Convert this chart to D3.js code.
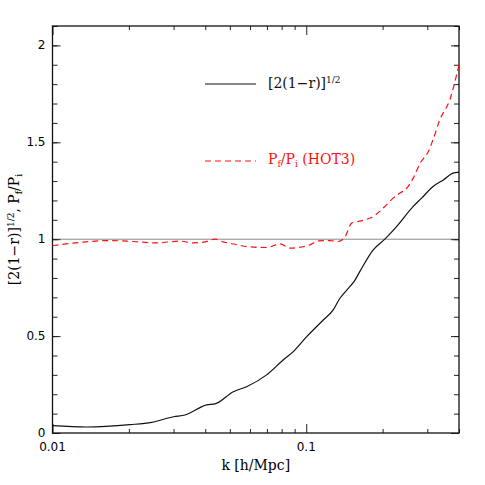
<!doctype html>
<html>
<head>
<style>
  body { margin: 0; background: white; }
</style>
<script src="https://d3js.org/d3.v7.min.js"></script>
</head>
<body>
<svg width="485" height="485"></svg>
<script>
// data
var kBlack = [0.01, 0.0136, 0.0202, 0.0246, 0.030, 0.0333, 0.0405, 0.0437, 0.0516, 0.0582, 0.0698, 0.0811, 0.0889, 0.1004, 0.1167, 0.1277, 0.135, 0.145, 0.155, 0.163, 0.1836, 0.204, 0.227, 0.264, 0.285, 0.316, 0.347, 0.379, 0.4];
var vBlack = [0.038, 0.031, 0.043, 0.055, 0.084, 0.093, 0.145, 0.150, 0.213, 0.239, 0.300, 0.377, 0.420, 0.497, 0.583, 0.635, 0.690, 0.740, 0.785, 0.835, 0.945, 1.000, 1.065, 1.169, 1.212, 1.272, 1.306, 1.341, 1.346];

var kRed = [0.01, 0.0132, 0.01685, 0.0208, 0.0257, 0.0318, 0.0359, 0.0399, 0.0437, 0.0471, 0.0524, 0.0582, 0.0698, 0.0788, 0.0863, 0.1034, 0.1115, 0.124, 0.1337, 0.142, 0.151, 0.160, 0.168, 0.178, 0.189, 0.207, 0.220, 0.234, 0.249, 0.264, 0.281, 0.303, 0.316, 0.336, 0.368, 0.4];
var vRed = [0.966, 0.985, 0.993, 0.988, 0.981, 0.990, 0.981, 0.986, 1.000, 0.986, 0.974, 0.962, 0.957, 0.976, 0.954, 0.971, 0.991, 0.993, 0.988, 1.010, 1.083, 1.091, 1.098, 1.108, 1.129, 1.177, 1.212, 1.238, 1.263, 1.315, 1.392, 1.453, 1.513, 1.616, 1.719, 1.900];

var xMajor = [0.01, 0.1];
var xMinor = [0.02, 0.03, 0.04, 0.05, 0.06, 0.07, 0.08, 0.09, 0.2, 0.3, 0.4];
var yMajor = [0, 0.5, 1, 1.5, 2];
var yMinor = d3.range(0, 2.11, 0.1);

var svg = d3.select("svg");
var pLeft = 52.5, pRight = 459, pTop = 26, pBottom = 433;

var x = d3.scaleLog().domain([0.01, 0.4]).range([pLeft, pRight]);
var y = d3.scaleLinear().domain([0, 2.1]).range([pBottom, pTop]);

// reference line at 1
svg.append("line")
   .attr("x1", pLeft).attr("x2", pRight)
   .attr("y1", y(1)).attr("y2", y(1))
   .attr("stroke", "#888").attr("stroke-width", 1);

// axes: ticks drawn inward on all four sides
function noLabel() { return ""; }
svg.append("g").attr("transform", "translate(0," + pBottom + ")")
   .call(d3.axisTop(x).tickValues(xMinor).tickSize(4).tickFormat(noLabel));
svg.append("g").attr("transform", "translate(0," + pBottom + ")")
   .call(d3.axisTop(x).tickValues(xMajor).tickSize(9).tickFormat(noLabel));
svg.append("g").attr("transform", "translate(0," + pTop + ")")
   .call(d3.axisBottom(x).tickValues(xMinor).tickSize(4).tickFormat(noLabel));
svg.append("g").attr("transform", "translate(0," + pTop + ")")
   .call(d3.axisBottom(x).tickValues(xMajor).tickSize(9).tickFormat(noLabel));

svg.append("g").attr("transform", "translate(" + pLeft + ",0)")
   .call(d3.axisRight(y).tickValues(yMinor).tickSize(5).tickFormat(noLabel));
svg.append("g").attr("transform", "translate(" + pLeft + ",0)")
   .call(d3.axisRight(y).tickValues(yMajor).tickSize(8).tickFormat(noLabel));
svg.append("g").attr("transform", "translate(" + pRight + ",0)")
   .call(d3.axisLeft(y).tickValues(yMinor).tickSize(5).tickFormat(noLabel));
svg.append("g").attr("transform", "translate(" + pRight + ",0)")
   .call(d3.axisLeft(y).tickValues(yMajor).tickSize(8).tickFormat(noLabel));

svg.selectAll(".domain").remove();
svg.selectAll(".tick line").attr("stroke", "#222").attr("stroke-width", 1);

// frame
svg.append("rect")
   .attr("x", pLeft).attr("y", pTop)
   .attr("width", pRight - pLeft).attr("height", pBottom - pTop)
   .attr("fill", "none").attr("stroke", "#111").attr("stroke-width", 1.3);

// tick labels
svg.selectAll(".xlab").data(xMajor).enter().append("text")
   .attr("x", function(d) { return x(d); })
   .attr("y", pBottom + 18)
   .attr("text-anchor", "middle")
   .attr("font-family", "DejaVu Sans, sans-serif")
   .attr("font-size", 12)
   .text(function(d) { return d; });

svg.selectAll(".ylab").data(yMajor).enter().append("text")
   .attr("x", pLeft - 7)
   .attr("y", function(d) { return y(d) + 4; })
   .attr("text-anchor", "end")
   .attr("font-family", "DejaVu Sans, sans-serif")
   .attr("font-size", 12)
   .text(function(d) { return d; });

// curves
var line = d3.line()
   .curve(d3.curveMonotoneX)
   .x(function(d) { return x(d[0]); })
   .y(function(d) { return y(d[1]); });

svg.append("path")
   .datum(kBlack.map(function(k, i) { return [k, vBlack[i]]; }))
   .attr("d", line)
   .attr("fill", "none").attr("stroke", "#111").attr("stroke-width", 1.2);

svg.append("path")
   .datum(kRed.map(function(k, i) { return [k, vRed[i]]; }))
   .attr("d", line)
   .attr("fill", "none").attr("stroke", "#ff1010").attr("stroke-width", 1.2)
   .attr("stroke-dasharray", "6,4");

// legend
var serif = "DejaVu Serif, serif";
svg.append("line").attr("x1", 205).attr("x2", 256).attr("y1", 84).attr("y2", 84)
   .attr("stroke", "#111").attr("stroke-width", 1.2);
var t1 = svg.append("text").attr("x", 268).attr("y", 88)
   .attr("font-family", serif).attr("font-size", 14).attr("fill", "#111");
t1.append("tspan").text("[2(1\u2212r)]");
t1.append("tspan").attr("dy", -5).attr("font-size", 9).text("1/2");

svg.append("line").attr("x1", 205).attr("x2", 256).attr("y1", 161).attr("y2", 161)
   .attr("stroke", "#ff1010").attr("stroke-width", 1.2).attr("stroke-dasharray", "6,4");
var t2 = svg.append("text").attr("x", 268).attr("y", 164)
   .attr("font-family", serif).attr("font-size", 14).attr("fill", "#ff1010");
t2.append("tspan").text("P");
t2.append("tspan").attr("dy", 3).attr("font-size", 9).text("f");
t2.append("tspan").attr("dy", -3).text("/P");
t2.append("tspan").attr("dy", 3).attr("font-size", 9).text("i");
t2.append("tspan").attr("dy", -3).text(" (HOT3)");

// axis titles
svg.append("text")
   .attr("x", (pLeft + pRight) / 2).attr("y", 470)
   .attr("text-anchor", "middle")
   .attr("font-family", serif).attr("font-size", 14)
   .text("k [h/Mpc]");

var yt = svg.append("text")
   .attr("transform", "translate(19," + ((pTop + pBottom) / 2) + ") rotate(-90)")
   .attr("text-anchor", "middle")
   .attr("font-family", serif).attr("font-size", 14);
yt.append("tspan").text("[2(1\u2212r)]");
yt.append("tspan").attr("dy", -5).attr("font-size", 9).text("1/2");
yt.append("tspan").attr("dy", 5).text(", P");
yt.append("tspan").attr("dy", 3).attr("font-size", 9).text("f");
yt.append("tspan").attr("dy", -3).text("/P");
yt.append("tspan").attr("dy", 3).attr("font-size", 9).text("i");
</script>
</body>
</html>
